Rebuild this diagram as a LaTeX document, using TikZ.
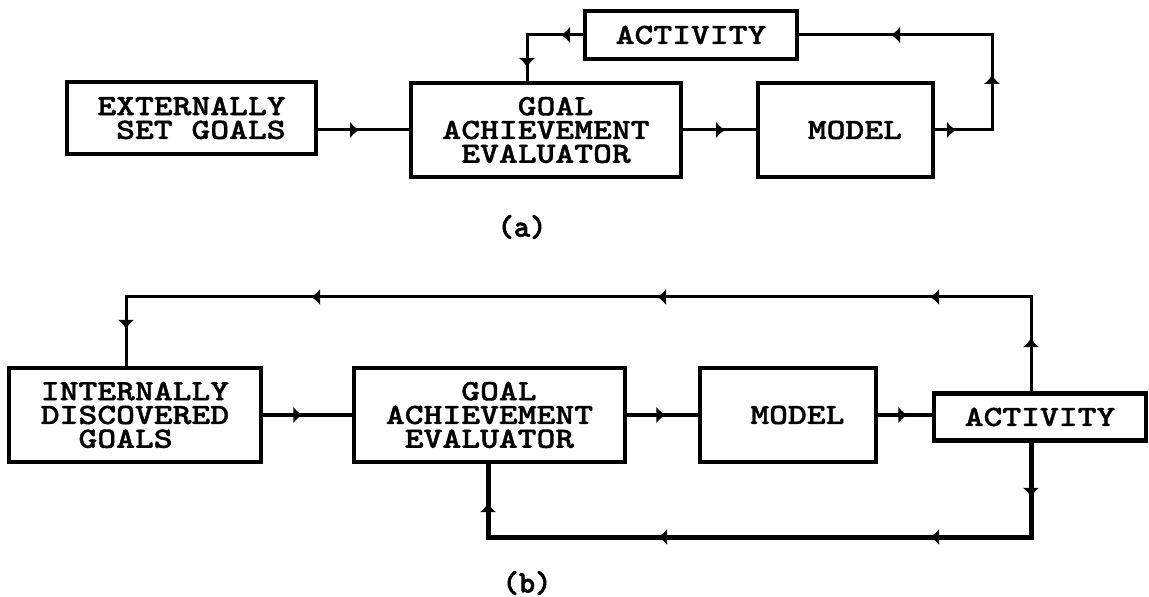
\documentclass[tikz,border=0pt]{standalone}
\usepackage{fontspec}
\newfontfamily\boxfont[FakeStretch=1.22, FakeBold=1.2]{lmmonolt10-bold.otf}
\newfontfamily\capfont[FakeBold=2]{lmmonolt10-bold.otf}
\usetikzlibrary{arrows.meta,decorations.markings}

\newcommand\flowtip{\arrow{Latex[length=4.5pt,width=8.5pt]}}

\tikzset{
  blocktext/.style={font={\boxfont\fontsize{14.7pt}{11.9pt}\selectfont}},
  blockA/.style={draw, line width=2pt, inner sep=0pt, blocktext, align=center},
  blockB/.style={draw, line width=2.3pt, inner sep=0pt, blocktext, align=center},
  thinlink/.style={line width=1.5pt},
  midlink/.style={line width=2pt},
  heavylink/.style={line width=2.5pt},
  tips/.style={postaction={decorate}, decoration={markings, #1}},
  caption/.style={font={\capfont\fontsize{15.5pt}{16pt}\selectfont}, inner sep=0pt},
}

\begin{document}
\begin{tikzpicture}[x=0.5pt, y=-0.5pt, line join=miter]
\useasboundingbox (0,0) rectangle (1149,597);

% ---------------- (a) externally set goals ----------------
\node[blockA, minimum width=124.5pt, minimum height=36pt] (ext) at (191.5,118)
  {EXTERNALLY\\\hphantom{S}SET GOALS};
\node[blockA, minimum width=135pt, minimum height=47pt, align=left] (gaeA) at (546,130)
  {\hphantom{XXXX}GOAL\\ACHIEVEMENT\\\hphantom{X}EVALUATOR};
\node[blockA, minimum width=87.5pt, minimum height=47pt] (modelA) at (845.5,130)
  {\hphantom{X}MODEL};
\node[blockA, minimum width=106pt, minimum height=24pt] (actA) at (691,35)
  {ACTIVITY};

\coordinate (ar) at (992,35);
\coordinate (al) at (527,35);

\draw[thinlink, tips={mark=at position 20.5pt with {\flowtip}}]
  (ext.east |- gaeA.west) -- (gaeA.west);
\draw[thinlink, tips={mark=at position 21pt with {\flowtip}}]
  (gaeA.east) -- (modelA.west);
\draw[thinlink, tips={mark=at position 10.5pt with {\flowtip},
                      mark=at position 56pt with {\flowtip},
                      mark=at position 126.5pt with {\flowtip}}]
  (modelA.east) -| (ar) -- (actA.east);
\draw[thinlink, tips={mark=at position 11pt with {\flowtip},
                      mark=at position 44pt with {\flowtip}}]
  (actA.west) -- (al) -- (al |- gaeA.north);

\node[caption] (capA) at (522,227) {(a)};

% ---------------- (b) internally discovered goals ----------------
\node[blockB, minimum width=126pt, minimum height=47pt, align=left] (igoals) at (135,415)
  {INTERNALLY\\DISCOVERED\\\hphantom{XX}GOALS};
\node[blockB, minimum width=135.5pt, minimum height=47pt, align=left] (gaeB) at (489.5,415)
  {\hphantom{XXXX}GOAL\\ACHIEVEMENT\\\hphantom{X}EVALUATOR};
\node[blockB, minimum width=88pt, minimum height=47pt] (modelB) at (788,415)
  {\hphantom{X}MODEL};
\node[blockB, minimum width=106pt, minimum height=23.5pt] (actB) at (1040,417)
  {ACTIVITY};

\coordinate (tr) at (1031,297);
\coordinate (tl) at (126,297);
\coordinate (br) at (1031,537);
\coordinate (bl) at (488,537);

\draw[midlink, tips={mark=at position 19.5pt with {\flowtip}}]
  (igoals.east) -- (gaeB.west);
\draw[midlink, tips={mark=at position 19pt with {\flowtip}}]
  (gaeB.east) -- (modelB.west);
\draw[midlink, tips={mark=at position 14.5pt with {\flowtip}}]
  (modelB.east) -- (modelB.east -| actB.west);

% feedback from the activity back to the goals
\draw[thinlink, tips={mark=at position 26.5pt with {\flowtip},
                      mark=at position 97.5pt with {\flowtip},
                      mark=at position 234pt with {\flowtip},
                      mark=at position 407pt with {\flowtip},
                      mark=at position 515.5pt with {\flowtip}}]
  (actB.north -| tr) -- (tr) -- (tl) -- (tl |- igoals.north);

% feedback from the activity back to the evaluator
\draw[heavylink, tips={mark=at position 27pt with {\flowtip},
                       mark=at position 97.5pt with {\flowtip},
                       mark=at position 233.5pt with {\flowtip},
                       mark=at position 335.5pt with {\flowtip}}]
  (actB.south -| br) -- (br) -- (bl) -- (bl |- gaeB.south);

\node[caption] (capB) at (527,583) {(b)};
\end{tikzpicture}
\end{document}
